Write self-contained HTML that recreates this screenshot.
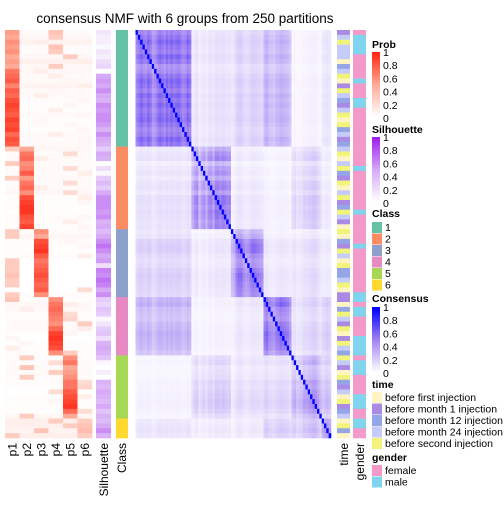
<!DOCTYPE html>
<html><head><meta charset="utf-8"><style>
body{margin:0;background:#fff;font-family:"Liberation Sans",sans-serif}
svg text{font-family:"Liberation Sans",sans-serif}
</style></head><body>
<svg id="chart" width="504" height="504" viewBox="0 0 504 504">
<text x="185" y="23" text-anchor="middle" font-size="13.5">consensus NMF with 6 groups from 250 partitions</text>
<g id="hm"></g><g id="leg"></g><g id="lab"></g>
</svg>
<script>
const classSizes=[24,17,14,12,13,4];
const probOwn=[0.55,0.5,0.6,0.55,0.6,0.5,0.55,0.5,0.7,0.75,0.8,0.65,0.8,0.75,0.85,0.9,0.85,0.8,0.9,0.85,0.9,0.75,0.85,0.8,
0.5,0.7,0.75,0.6,0.65,0.8,0.55,0.7,0.75,0.6,0.85,0.9,0.95,0.95,0.85,0.8,0.9,
0.6,0.5,0.85,0.9,0.95,0.8,0.7,0.75,0.8,0.85,0.8,0.75,0.8,0.6,
0.6,0.7,0.75,0.7,0.65,0.6,0.75,0.9,0.95,0.9,0.85,0.6,
0.6,0.7,0.5,0.55,0.6,0.7,0.7,0.8,0.85,0.9,0.95,0.75,0.5,
0.3,0.35,0.4,0.3];
const altProb=[0.35,0.3,0.1,0.35,0.3,0.3,0.1,0.3,0.1,0.1,0.05,0.1,0.05,0.1,0.05,0.05,0.1,0.05,0.05,0.05,0.05,0.1,0.05,0.05,
0.3,0.2,0.1,0.3,0.2,0.1,0.3,0.2,0.1,0.2,0.1,0.05,0.02,0.02,0.05,0.1,0.05,
0.3,0.3,0.05,0.05,0.02,0.1,0.3,0.3,0.3,0.35,0.3,0.3,0.2,0.3,
0.35,0.1,0.1,0.2,0.25,0.3,0.1,0.05,0.05,0.05,0.1,0.3,
0.3,0.2,0.35,0.3,0.3,0.2,0.25,0.2,0.1,0.05,0.02,0.2,0.3,
0.3,0.3,0.35,0.3];
const altClass=[3,3,2,3,3,4,5,3,2,3,4,5,3,2,5,4,3,5,2,4,5,3,5,5,
0,4,2,0,4,5,0,4,2,4,5,5,0,3,5,4,5,
0,0,4,5,0,5,0,0,0,0,0,0,5,0,
0,4,1,4,4,5,5,4,0,1,0,4,
1,3,1,3,1,5,5,3,5,3,3,5,1,
3,4,2,0];
const silhouette=[0.15,0.1,0.1,0.05,0.15,0.1,0.2,0.25,0.0,0.5,0.55,0.5,0.6,0.5,0.45,0.6,0.55,0.6,0.6,0.55,0.45,0.6,0.5,0.45,
0.3,0.5,0.45,0.0,0.2,0.05,0.3,0.4,0.3,0.5,0.6,0.6,0.6,0.55,0.6,0.45,0.5,
0.4,0.5,0.6,0.7,0.6,0.5,0.55,0.2,0.65,0.6,0.7,0.65,0.5,0.6,
0.3,0.25,0.35,0.3,0.05,0.15,0.3,0.35,0.2,0.45,0.5,0.45,
0.35,0.05,0.0,0.1,0.0,0.45,0.4,0.5,0.45,0.4,0.5,0.35,0.45,
0.4,0.5,0.6,0.45];
const rowStrength=[0.8,0.9,1,0.9,0.85,1,0.9,0.7,0.75,0.9,1,0.95,0.85,1,0.9,1,0.9,0.95,1,0.9,0.8,0.85,1,0.9,
0.6,0.8,0.9,0.5,0.7,0.8,0.6,0.85,0.9,0.7,1,1,0.9,1,0.95,0.85,0.9,
0.5,0.6,0.9,1,1,0.8,0.7,0.75,0.9,1,0.95,0.9,0.85,0.8,
0.9,1,0.8,0.75,0.7,0.85,0.9,1,0.95,0.9,0.85,0.7,
0.6,0.7,0.5,0.55,0.6,0.8,0.75,0.85,0.9,1,0.95,0.8,0.6,
0.7,0.8,0.9,0.75];
const blockMeans=[[0.55,0.12,0.18,0.3,0.06,0.12],[0.12,0.5,0.1,0.06,0.22,0.1],[0.18,0.1,0.52,0.1,0.15,0.1],[0.3,0.06,0.1,0.55,0.18,0.22],[0.06,0.22,0.15,0.18,0.45,0.3],[0.12,0.1,0.1,0.22,0.3,0.5]];
const timeCodes=[1,3,4,3,3,3,0,2,3,4,0,1,4,3,2,1,3,4,0,4,2,3,1,2,
3,4,0,3,4,2,1,4,0,3,4,1,2,4,3,1,0,
4,0,2,1,4,3,0,4,2,2,3,4,0,1,
1,0,2,4,3,1,4,0,1,4,3,2,
4,3,1,0,4,2,1,3,0,4,1,2,3,
0,4,2,0];
const genderCodes=[0,1,1,1,1,0,0,0,0,0,1,0,0,0,1,1,0,0,0,0,0,0,0,0,
0,0,0,0,1,0,0,0,0,0,0,0,0,1,0,0,0,
0,0,0,1,0,0,0,0,0,0,0,0,0,1,
1,0,1,1,0,0,0,0,1,1,1,1,
0,1,1,1,0,0,0,0,1,1,1,0,0,
1,1,0,0];
const classColors=["#66C2A5","#FC8D62","#8DA0CB","#E78AC3","#A6D854","#FFD92F"];
const timeColors=["#FFF4C2","#A98BE6","#95A6E6","#C6CCFA","#F2F47A"];
const timeLabels=["before first injection","before month 1 injection","before month 12 injection","before month 24 injection","before second injection"];
const genderColors=["#F49ACB","#80D4EE"];
const genderLabels=["female","male"];
const probTicks=["1","0.8","0.6","0.4","0.2","0"];

const NS="http://www.w3.org/2000/svg";
function mk(t,a,p){const e=document.createElementNS(NS,t);for(const k in a)e.setAttribute(k,a[k]);p.appendChild(e);return e;}
function lerp(a,b,t){return a.map((v,i)=>Math.round(v+(b[i]-v)*t));}
function ramp(stops,v){if(!isFinite(v))v=0;v=Math.max(0,Math.min(1,v));const n=stops.length-1;const i=Math.min(n-1,Math.floor(v*n));const c=lerp(stops[i],stops[i+1],v*n-i);return `rgb(${c[0]},${c[1]},${c[2]})`;}
const g0=(arr,i,d)=>(arr[i]===undefined?d:arr[i]);
const redS=[[255,255,255],[255,170,150],[255,40,20]];
const purS=[[255,255,255],[214,170,246],[160,32,240]];
const bluS=[[255,255,255],[160,130,242],[0,0,255]];
const cls=[];classSizes.forEach((s,c)=>{for(let k=0;k<s;k++)cls.push(c);});
const N=cls.length, hmTop=30, hmBot=438, rh=(hmBot-hmTop)/N;
const yOf=i=>hmTop+i*rh;
const hm=document.getElementById('hm');
const pX0=5,pW=14.5;
for(let i=0;i<N;i++){
 const own=g0(probOwn,i,0.7), alt=g0(altProb,i,0.1), ac=g0(altClass,i,0);
 for(let k=0;k<6;k++){
 let v=k===cls[i]?own:(k===ac?alt:Math.max(0,(1-own-alt)/4));
 const r=mk('rect',{x:pX0+k*pW,y:yOf(i),width:pW+0.3,height:rh+0.3,fill:ramp(redS,v)},hm);
 
 
}}
for(let i=0;i<N;i++){
 const r=mk('rect',{x:96,y:yOf(i),width:15,height:rh+0.3,fill:ramp(purS,g0(silhouette,i,0.4))},hm);
 
 
 const c=mk('rect',{x:116,y:yOf(i),width:12,height:rh+0.3,fill:classColors[cls[i]]},hm);
 
 
 const t=mk('rect',{x:337,y:yOf(i),width:13,height:rh+0.3,fill:timeColors[g0(timeCodes,i,0)]},hm);
 
 
 const g=mk('rect',{x:353,y:yOf(i),width:13,height:rh+0.3,fill:genderColors[g0(genderCodes,i,0)]},hm);
 
 
}
const cX0=135.5,cW=(331-135.5)/N;
for(let i=0;i<N;i++){for(let j=0;j<N;j++){
 const v=i===j?1:blockMeans[cls[i]][cls[j]]*g0(rowStrength,i,0.8)*g0(rowStrength,j,0.8)*1.15;
 const r=mk('rect',{x:cX0+j*cW,y:yOf(i),width:cW+0.3,height:rh+0.3,fill:ramp(bluS,v)},hm);
 
 
}}
const lab=document.getElementById('lab');
function vlab(x,txt,name){const t=mk('text',{x:0,y:0,transform:`translate(${x},443) rotate(-90)`,'text-anchor':'end','font-size':'12'},lab);t.textContent=txt;
 }
for(let k=0;k<6;k++)vlab(pX0+k*pW+pW/2+4,'p'+(k+1),'prob-column-label');
vlab(108,'Silhouette','silhouette-label');vlab(126,'Class','class-label');
vlab(348,'time','time-label');vlab(364,'gender','gender-label');
const leg=document.getElementById('leg');
function title(y,txt,name){const t=mk('text',{x:372,y:y,'font-size':'10.5','font-weight':'bold'},leg);t.textContent=txt;}
function bar(y0,stops,name){
 const h=66;for(let s=0;s<33;s++){const r=mk('rect',{x:372,y:y0+s*2,width:8,height:2.2,fill:ramp(stops,1-s/32)},leg);}
 probTicks.forEach((t,k)=>{const e=mk('text',{x:383,y:y0+4+k*h/5,'font-size':'10.5'},leg);e.textContent=t;});
}
title(48,'Prob','prob-legend-title');bar(52,redS,'prob-colorbar');
title(133,'Silhouette','silhouette-legend-title');bar(137,purS,'silhouette-colorbar');
title(217,'Class','class-legend-title');
classColors.forEach((c,k)=>{const r=mk('rect',{x:372,y:222+k*11.5,width:10,height:11,fill:c},leg);
 const t=mk('text',{x:385,y:231+k*11.5,'font-size':'10.5'},leg);t.textContent=String(k+1);});
title(302,'Consensus','consensus-legend-title');bar(307,bluS,'consensus-colorbar');
title(388,'time','time-legend-title');
timeColors.forEach((c,k)=>{const r=mk('rect',{x:372,y:392+k*11.5,width:10,height:11,fill:c},leg);
 const t=mk('text',{x:385,y:401+k*11.5,'font-size':'10.5'},leg);t.textContent=timeLabels[k];});
title(461,'gender','gender-legend-title');
genderColors.forEach((c,k)=>{const r=mk('rect',{x:372,y:465+k*11.5,width:10,height:11,fill:c},leg);
 const t=mk('text',{x:385,y:474+k*11.5,'font-size':'10.5'},leg);t.textContent=genderLabels[k];});
</script>
</body></html>
